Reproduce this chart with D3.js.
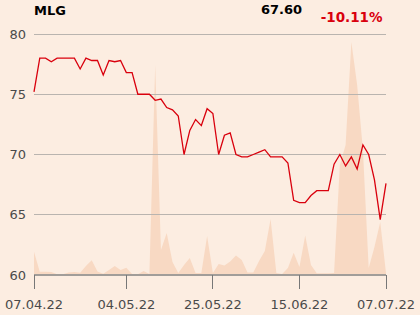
<!DOCTYPE html>
<html>
<head>
<meta charset="utf-8">
<script src="https://cdn.jsdelivr.net/npm/d3@7"></script>
<style>
  html, body { margin: 0; padding: 0; background: #fcede1; }
  svg { display: block; }
</style>
</head>
<body>
<svg id="chart" width="420" height="315"></svg>
<script>
const title = "MLG";
const lastPrice = "67.60";
const change = "-10.11%";

const tickLabels = ["07.04.22", "04.05.22", "25.05.22", "15.06.22", "07.07.22"];
const tickIndex = [0, 16, 31, 46, 61];
const yTicks = [60, 65, 70, 75, 80];

const prices = [
  75.2, 78.0, 78.0, 77.7, 78.0, 78.0, 78.0, 78.0, 77.1, 78.0,
  77.8, 77.8, 76.6, 77.8, 77.7, 77.8, 76.8, 76.8, 75.0, 75.0,
  75.0, 74.5, 74.6, 73.9, 73.7, 73.2, 70.0, 72.0, 72.9, 72.4,
  73.8, 73.4, 70.0, 71.6, 71.8, 70.0, 69.8, 69.8, 70.0, 70.2,
  70.4, 69.8, 69.8, 69.8, 69.3, 66.2, 66.0, 66.0, 66.6, 67.0,
  67.0, 67.0, 69.2, 70.0, 69.05, 69.8, 68.8, 70.8, 70.0, 67.9,
  64.6, 67.6
];

const volumes = [
  2330, 330, 330, 300, 70, 70, 250, 300, 230, 900,
  1470, 350, 130, 500, 900, 500, 730, 100, 70, 400,
  100, 21000, 2500, 4200, 1300, 200, 1000, 1700, 200, 200,
  3900, 200, 1100, 950, 1350, 1950, 1500, 250, 250, 1400,
  2400, 5600, 200, 100, 700, 2230, 800, 3950, 1000, 170,
  170, 170, 200, 11000, 13000, 23300, 19000, 12500, 700, 2800,
  5300, 200
];

const svg = d3.select("#chart");
const mLeft = 34, mRight = 386, mTop = 34, mBottom = 275;

const x = d3.scaleLinear().domain([0, prices.length - 1]).range([mLeft, mRight]);
const y = d3.scaleLinear().domain([60, 80]).range([mBottom, mTop]);
const yv = d3.scaleLinear().domain([0, d3.max(volumes)]).range([mBottom, 42]);

// volume area
const area = d3.area()
  .x((d, i) => x(i))
  .y0(mBottom)
  .y1(d => yv(d));
svg.append("path")
  .datum(volumes)
  .attr("d", area)
  .attr("fill", "#f8d9c3");

// gridlines
svg.append("g").selectAll("line")
  .data(yTicks.filter(t => t !== 60))
  .join("line")
  .attr("x1", mLeft).attr("x2", mRight)
  .attr("y1", d => y(d)).attr("y2", d => y(d))
  .attr("stroke", "#b9b4af")
  .attr("stroke-width", 1)
  .attr("shape-rendering", "crispEdges");

// baseline
svg.append("line")
  .attr("x1", mLeft).attr("x2", mRight)
  .attr("y1", y(60)).attr("y2", y(60))
  .attr("stroke", "#a19d99")
  .attr("stroke-width", 1.3)
  .attr("shape-rendering", "crispEdges");

// y labels
svg.append("g").selectAll("text")
  .data(yTicks)
  .join("text")
  .attr("x", 26)
  .attr("y", d => y(d))
  .attr("dy", "0.36em")
  .attr("text-anchor", "end")
  .attr("font-family", "DejaVu Sans")
  .attr("font-size", 13)
  .attr("fill", "#4a4a4a")
  .text(d => d);

// x ticks
const xt = svg.append("g");
xt.selectAll("line")
  .data(tickIndex)
  .join("line")
  .attr("x1", d => x(d)).attr("x2", d => x(d))
  .attr("y1", y(60)).attr("y2", y(60) + 14)
  .attr("stroke", "#777")
  .attr("stroke-width", 1)
  .attr("shape-rendering", "crispEdges");
xt.selectAll("text")
  .data(tickIndex)
  .join("text")
  .attr("x", d => x(d))
  .attr("y", 309)
  .attr("text-anchor", "middle")
  .attr("font-family", "DejaVu Sans")
  .attr("font-size", 13)
  .attr("fill", "#4a4a4a")
  .text((d, i) => tickLabels[i]);

// price line
const line = d3.line()
  .x((d, i) => x(i))
  .y(d => y(d));
svg.append("path")
  .datum(prices)
  .attr("d", line)
  .attr("fill", "none")
  .attr("stroke", "#d9000d")
  .attr("stroke-width", 1.3)
  .attr("stroke-linejoin", "miter");

// header
svg.append("text")
  .attr("x", 34).attr("y", 15)
  .attr("font-family", "DejaVu Sans")
  .attr("font-weight", "bold")
  .attr("font-size", 13)
  .attr("fill", "#000")
  .text(title);
svg.append("text")
  .attr("x", 302).attr("y", 14)
  .attr("text-anchor", "end")
  .attr("font-family", "DejaVu Sans")
  .attr("font-weight", "bold")
  .attr("font-size", 13)
  .attr("fill", "#000")
  .text(lastPrice);
svg.append("text")
  .attr("x", 382.5).attr("y", 21.7)
  .attr("text-anchor", "end")
  .attr("font-family", "DejaVu Sans")
  .attr("font-weight", "bold")
  .attr("font-size", 13.5)
  .attr("fill", "#d9000d")
  .text(change);
</script>
</body>
</html>
